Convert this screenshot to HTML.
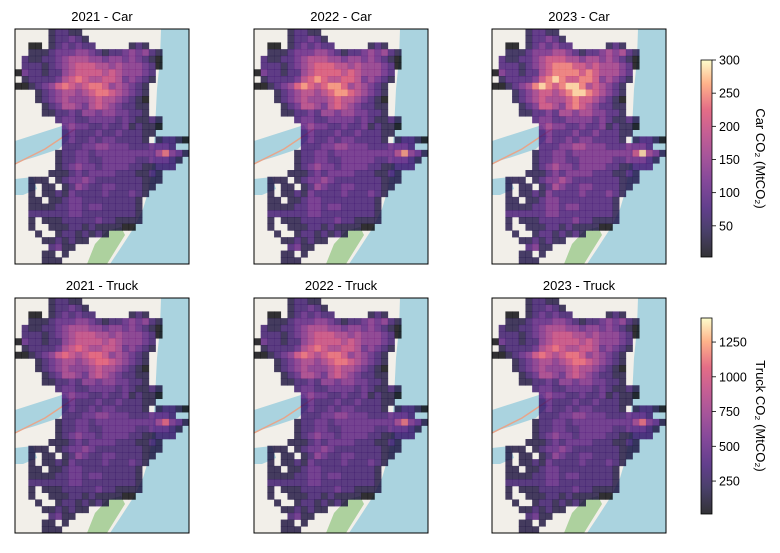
<!DOCTYPE html>
<html><head><meta charset="utf-8"><style>
body{margin:0;background:#fff;font-family:"Liberation Sans",sans-serif}
svg text{font-family:"Liberation Sans",sans-serif}
</style></head><body>
<svg id="fig" width="780" height="548" viewBox="0 0 780 548" xmlns="http://www.w3.org/2000/svg">
<defs>
<linearGradient id="magma" x1="0" y1="1" x2="0" y2="0">
<stop offset="0" stop-color="#000004"/><stop offset="0.13" stop-color="#1c1044"/>
<stop offset="0.25" stop-color="#3b0f70"/><stop offset="0.38" stop-color="#641a80"/>
<stop offset="0.5" stop-color="#8c2981"/><stop offset="0.63" stop-color="#b73779"/>
<stop offset="0.75" stop-color="#de4968"/><stop offset="0.88" stop-color="#fe9f6d"/>
<stop offset="1" stop-color="#fcfdbf"/>
</linearGradient>
</defs>
</svg>
<script>
const gridRows = [
".....12211................",
".....122321...............",
"..00.1232322.....121......",
"..11123334432122343421....",
".211223455544344343210....",
".222123456665545444320....",
"032212245666656544432.....",
".12222356765566534321.....",
"00123467656776454321......",
"...12345545677654321......",
"...12345444565543210......",
"....1235543565432211......",
"....1122324434433221......",
"......2332233332321121....",
".......343322322312110....",
".......23222322322211.....",
".......2322323322221.12210",
".......22233443332223332..",
"......12233233333333357431",
"......1223322333332233321.",
"......123433233332211222..",
".....11123233332221121....",
"..111.1233432222222111....",
"..1.11.12432233222211.....",
"..1.1121322223222321......",
"..11.11233222222221.......",
"..11112233233222221.......",
"..22222233222222221.......",
"..1.111222223221111.......",
"..1..1112212111100........",
"...1..12212121............",
"....1121211...............",
".....2311.................",
"....11.1..................",
"....111..................."
];
const years = ["2021","2022","2023"];
const carScale = [1.0, 1.08, 1.2];
const truckScale = [1.0, 1.04, 1.03];
const carBase = [3, 33];
const truckBase = [15, 150];
const carRange = [3, 300];
const truckRange = [13, 1423];
const carTicks = [50,100,150,200,250,300];
const truckTicks = [250,500,750,1000,1250];

const NS="http://www.w3.org/2000/svg";
const fig=document.getElementById('fig');
function mk(t,a,p){const e=document.createElementNS(NS,t);for(const k in a)e.setAttribute(k,a[k]);(p||fig).appendChild(e);return e;}
const stops=[[0,[0,0,4]],[0.13,[28,16,68]],[0.25,[59,15,112]],[0.38,[100,26,128]],[0.5,[140,41,129]],[0.63,[183,55,121]],[0.75,[222,73,104]],[0.88,[254,159,109]],[1,[252,253,191]]];
function magma(t){t=Math.max(0,Math.min(1,t));for(let i=1;i<stops.length;i++){if(t<=stops[i][0]){const a=stops[i-1],b=stops[i],f=(t-a[0])/(b[0]-a[0]);return 'rgb('+a[1].map((v,j)=>Math.round(v+(b[1][j]-v)*f)).join(',')+')';}}return 'rgb(252,253,191)';}

const panelX=[15,254,492], panelY=[29,298], PW=174, PH=235;
const nCols=26,nRows=35, cw=PW/nCols, ch=PH/nRows;

function drawMap(g){
  mk('rect',{x:0,y:0,width:PW,height:PH,fill:'#f2efe9'},g);
  mk('path',{d:'M146 0 L174 0 L174 235 L95 235 L105 220 L118 200 L128 180 L134 160 L138 130 L140 100 L142 60 L145 30 Z',fill:'#aad3df'},g);
  mk('path',{d:'M0 112 L25 104 L50 96 L56 108 L44 120 L20 128 L0 134 Z M0 150 L18 148 L22 160 L8 166 L0 166 Z',fill:'#aad3df'},g);
  mk('path',{d:'M72 235 L80 215 L92 202 L106 198 L110 206 L100 222 L92 235 Z',fill:'#add19e'},g);
  mk('path',{d:'M0 135 L30 120 L60 100',stroke:'#e8a58a','stroke-width':1.5,fill:'none'},g);
}

function panel(ci,ri,title,scale,base,range){
  const g=mk('g',{transform:'translate('+panelX[ci]+','+panelY[ri]+')'});
  
  
  drawMap(g);
  gridRows.forEach((row,r)=>{
    for(let c=0;c<nCols;c++){
      const ch0=row[c]; if(ch0==='.'||ch0===undefined) continue;
      const v=(base[0]+(+ch0)*base[1])*scale;
      const t=(v-range[0])/(range[1]-range[0]);
      const cell=mk('rect',{x:(c*cw).toFixed(2),y:(r*ch).toFixed(2),width:(cw+0.3).toFixed(2),height:(ch+0.3).toFixed(2),fill:magma(t),'fill-opacity':0.8},g);
      
      
    }
  });
  mk('rect',{x:0,y:0,width:PW,height:PH,fill:'none',stroke:'#000','stroke-width':1},g);
  const tt=mk('text',{x:panelX[ci]+PW/2,y:panelY[ri]-8,'text-anchor':'middle','font-size':13,fill:'#000'});
  tt.textContent=title;
  
  
}
years.forEach((y,i)=>panel(i,0,y+' - Car',carScale[i],carBase,carRange));
years.forEach((y,i)=>panel(i,1,y+' - Truck',truckScale[i],truckBase,truckRange));

function colorbar(y0,y1,range,ticks,label,name){
  const g=mk('g',{});
  
  
  const x=701,w=11;
  mk('rect',{x:x,y:y0,width:w,height:y1-y0,fill:'url(#magma)','fill-opacity':0.8},g);
  mk('rect',{x:x,y:y0,width:w,height:y1-y0,fill:'none',stroke:'#000','stroke-width':0.8},g);
  ticks.forEach(v=>{
    const ty=y1-(v-range[0])/(range[1]-range[0])*(y1-y0);
    mk('line',{x1:x+w,x2:x+w+4,y1:ty,y2:ty,stroke:'#000','stroke-width':0.8},g);
    const t=mk('text',{x:x+w+7,y:ty+4.5,'font-size':12.5,fill:'#000'},g);t.textContent=v;
  });
  const cy=(y0+y1)/2;
  const t=mk('text',{x:756,y:cy,'font-size':13,'text-anchor':'middle',fill:'#000',transform:'rotate(90 756 '+cy+')'},g);
  t.textContent=label;
}
colorbar(60,257,carRange,carTicks,'Car CO₂ (MtCO₂)','car-colorbar');
colorbar(318,514,truckRange,truckTicks,'Truck CO₂ (MtCO₂)','truck-colorbar');
</script>
</body></html>
